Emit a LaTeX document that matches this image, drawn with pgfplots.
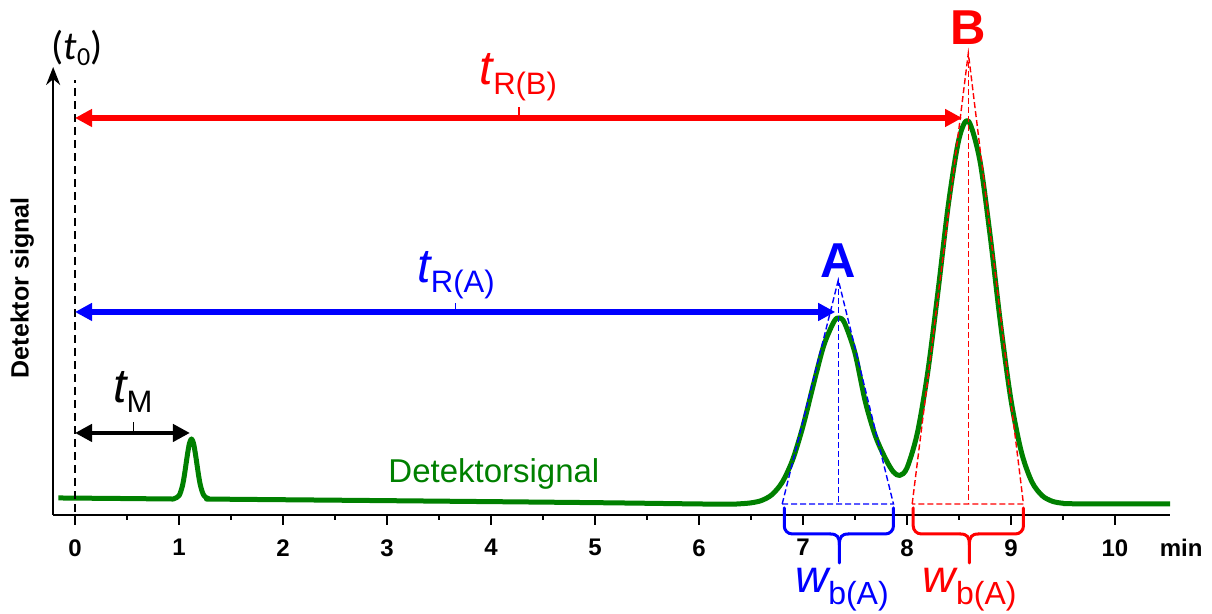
\documentclass[border=0pt]{standalone}
\usepackage{pgfplots}
\pgfplotsset{compat=1.18}
\usepackage{fontspec}
\setmainfont{Liberation Sans}
\newfontfamily\carlito{Carlito}
\usetikzlibrary{arrows.meta}
\definecolor{cgreen}{RGB}{0,128,0}
\definecolor{cred}{RGB}{255,0,0}
\definecolor{cblue}{RGB}{0,0,255}
\newcommand{\tlab}[1]{{\fontsize{24}{24}\selectfont\itshape t}\raisebox{-5pt}{\fontsize{15.5}{15.5}\selectfont #1}}
\newcommand{\wlab}[1]{{\fontsize{23}{23}\selectfont\itshape w}\raisebox{-6pt}{\fontsize{16}{16}\selectfont #1}}
\begin{document}
\begin{tikzpicture}
\begin{axis}[
  width=558.5pt, height=224pt, scale only axis,
  xmin=-0.21, xmax=10.53, ymin=0, ymax=448,
  axis x line=bottom, axis y line=left,
  axis line style={line width=1.2pt},
  x axis line style={-},
  y axis line style={-{Stealth[length=9pt,width=7pt]}},
  ytick=\empty,
  xtick={0,1,2,3,4,5,6,7,8,9,10},
  xticklabels={0,1,2,3,4,5,6,7,8,9,10},
  minor x tick num=1,
  tick align=outside,
  major tick length=5pt, minor tick length=2.5pt,
  every tick/.style={black, line width=1.2pt},
  xticklabel style={font=\bfseries\fontsize{12}{12}\selectfont, inner sep=1pt, yshift=-6pt},
  xlabel={min},
  xlabel style={at={(rel axis cs:1.0099,-0.0737)}, anchor=center, inner sep=1pt, font=\bfseries\fontsize{12}{12}\selectfont},
  ylabel={Detektor signal},
  ylabel style={at={(rel axis cs:-0.0278,0.507)}, anchor=center, font=\bfseries\fontsize{12.5}{12.5}\selectfont},
  clip=false,
]
% bounding box of the whole picture
\path (axis cs:-0.7212,-99) rectangle (axis cs:10.933,515);

% detector signal
\addplot[cgreen, line width=2.5pt, smooth, line join=round] coordinates {
(-0.16,17) (0.5,16.4) (0.9,16.0) (0.95,16.2) (1.0,19.3) (1.03,27.9) (1.05,38.5)
(1.08,59.6) (1.10,71.4) (1.12,76) (1.14,71.4) (1.16,59.6) (1.19,38.5) (1.21,27.9)
(1.24,19.4) (1.29,16.1) (1.4,15.8) (3.0,14.3) (5.0,12.3) (6.0,11.0) (6.3,10.8)
(6.4,11.2) (6.5,12.1) (6.6,14.4) (6.7,20.2) (6.8,32.6) (6.9,55) (7.0,88.8)
(7.1,130.2) (7.2,169.5) (7.3,193.7) (7.35,197) (7.4,192) (7.5,162) (7.6,113)
(7.7,78) (7.8,55) (7.87,43) (7.93,39.5) (8.0,47) (8.1,82) (8.2,143) (8.3,225)
(8.4,312) (8.5,376) (8.59,394) (8.7,355) (8.8,279) (8.9,191) (9.0,115) (9.1,63)
(9.2,33.3) (9.3,19.3) (9.4,13.6) (9.5,11.7) (9.6,11.2) (10.53,11)
};

% t0 dashed line
\draw[black, line width=0.9pt, dash pattern=on 4pt off 2.5pt] (axis cs:0,-10) -- (axis cs:0,435);
\node[font=\carlito\fontsize{20}{20}\selectfont] at (axis cs:0.02,467) {(\textit{t}\raisebox{-3pt}{\fontsize{13}{13}\selectfont 0})};

% retention arrows
\draw[cred, line width=2.6pt, {Triangle[length=8.5pt,width=8.5pt]}-{Triangle[length=8.5pt,width=8.5pt]}] (axis cs:0,397) -- (axis cs:8.53,397);
\draw[cred, line width=0.6pt] (axis cs:4.27,397) -- (axis cs:4.27,408);
\node[cred, anchor=base west, inner sep=0pt] at (axis cs:3.89,430) {\tlab{R(B)}};

\draw[cblue, line width=2.6pt, {Triangle[length=8.5pt,width=8.5pt]}-{Triangle[length=8.5pt,width=8.5pt]}] (axis cs:0,203) -- (axis cs:7.31,203);
\draw[cblue, line width=0.6pt] (axis cs:3.66,203) -- (axis cs:3.66,212);
\node[cblue, anchor=base west, inner sep=0pt] at (axis cs:3.29,232) {\tlab{R(A)}};

\draw[black, line width=2.2pt, {Triangle[length=8.5pt,width=8.5pt]}-{Triangle[length=8.5pt,width=8.5pt]}] (axis cs:0,82) -- (axis cs:1.105,82);
\draw[black, line width=0.6pt] (axis cs:0.56,82) -- (axis cs:0.56,93);
\node[black, anchor=base west, inner sep=0pt] at (axis cs:0.365,112) {\tlab{M}};

% peak labels
\node[cblue, anchor=base, inner sep=0pt, font=\bfseries\fontsize{24.5}{24.5}\selectfont] at (axis cs:7.34,237) {A};
\node[cred, anchor=base, inner sep=0pt, font=\bfseries\fontsize{24.5}{24.5}\selectfont] at (axis cs:8.59,470) {B};
\node[cgreen, anchor=base west, inner sep=0pt, font=\fontsize{16.5}{16.5}\selectfont] at (axis cs:3.01,32) {Detektorsignal};

% tangent triangles
\draw[cblue, line width=0.7pt, dash pattern=on 3pt off 1.5pt] (axis cs:6.80,11) -- (axis cs:7.34,235) -- (axis cs:7.87,11) -- cycle;
\draw[cblue, line width=0.7pt, dash pattern=on 3pt off 1.5pt] (axis cs:7.34,235) -- (axis cs:7.34,11);
\draw[cred, line width=0.7pt, dash pattern=on 3pt off 1.5pt] (axis cs:8.05,11) -- (axis cs:8.59,462) -- (axis cs:9.12,11) -- cycle;
\draw[cred, line width=0.7pt, dash pattern=on 3pt off 1.5pt] (axis cs:8.59,462) -- (axis cs:8.59,11);

% braces
\draw[cblue, line width=1.5pt, rounded corners=4pt, line cap=round] (axis cs:6.82,7) -- (axis cs:6.82,-19) -- (axis cs:7.26,-19);
\draw[cblue, line width=1.5pt, rounded corners=4pt, line cap=round] (axis cs:7.87,7) -- (axis cs:7.87,-19) -- (axis cs:7.44,-19);
\draw[cblue, line width=1.5pt, line cap=round] (axis cs:7.26,-19) .. controls (axis cs:7.33,-19) and (axis cs:7.35,-22) .. (axis cs:7.35,-30) -- (axis cs:7.35,-48);
\draw[cblue, line width=1.5pt, line cap=round] (axis cs:7.44,-19) .. controls (axis cs:7.37,-19) and (axis cs:7.35,-22) .. (axis cs:7.35,-30);
\node[cblue, anchor=base west, inner sep=0pt] at (axis cs:6.92,-78) {\wlab{b(A)}};

\draw[cred, line width=1.5pt, rounded corners=4pt, line cap=round] (axis cs:8.06,7) -- (axis cs:8.06,-19) -- (axis cs:8.51,-19);
\draw[cred, line width=1.5pt, rounded corners=4pt, line cap=round] (axis cs:9.12,7) -- (axis cs:9.12,-19) -- (axis cs:8.69,-19);
\draw[cred, line width=1.5pt, line cap=round] (axis cs:8.51,-19) .. controls (axis cs:8.58,-19) and (axis cs:8.60,-22) .. (axis cs:8.60,-30) -- (axis cs:8.60,-48);
\draw[cred, line width=1.5pt, line cap=round] (axis cs:8.69,-19) .. controls (axis cs:8.62,-19) and (axis cs:8.60,-22) .. (axis cs:8.60,-30);
\node[cred, anchor=base west, inner sep=0pt] at (axis cs:8.15,-78) {\wlab{b(A)}};
\end{axis}
\end{tikzpicture}
\end{document}
